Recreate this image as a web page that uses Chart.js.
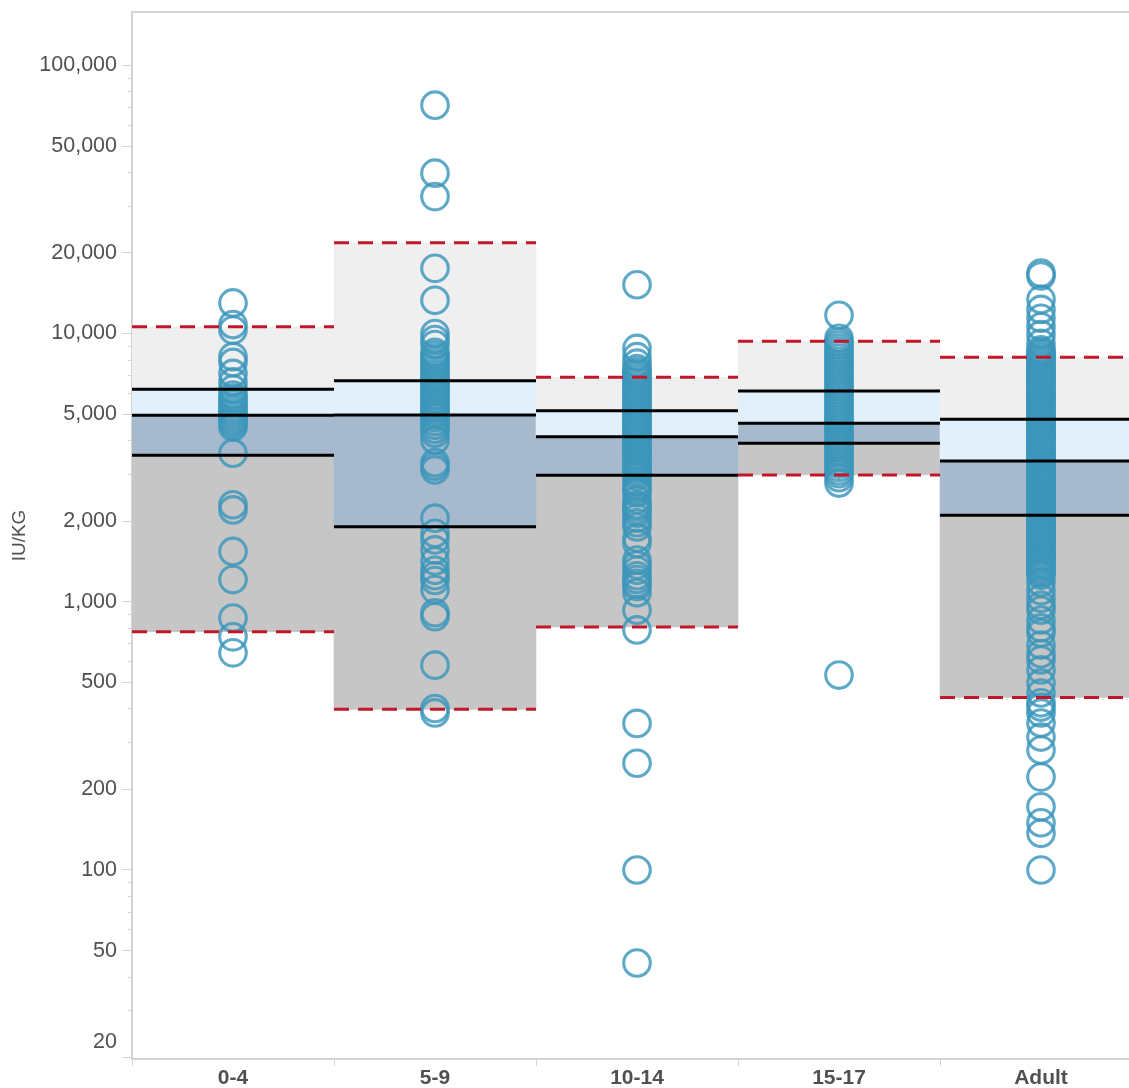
<!DOCTYPE html>
<html>
<head>
<meta charset="utf-8">
<script src="https://cdn.jsdelivr.net/npm/chart.js@4.4.1/dist/chart.umd.min.js"></script>
<style>
html,body{margin:0;padding:0;overflow:hidden;background:#fff;width:1129px;height:1088px}
#wrap{position:absolute;left:0;top:0;width:1150px;height:1088px}
</style>
</head>
<body>
<div id="wrap"><canvas id="c" width="1150" height="1088"></canvas></div>
<script>
// ---- data ----
const categories = ['0-4', '5-9', '10-14', '15-17', 'Adult'];

const upperWhisker = [10600, 21800, 6870, 9360, 8160];
const q3Values     = [6200, 6660, 5150, 6110, 4790];
const medianValues = [4960, 4970, 4120, 4630, 3350];
const q1Values     = [3520, 1905, 2960, 3900, 2100];
const lowerWhisker = [773, 397, 805, 2970, 440];

const values0to4 = [13000, 10800, 10300, 8200, 7800, 7100, 6600, 6200, 5900, 5750, 5600, 5450, 5300, 5170, 5050, 4930, 4810, 4700, 4590, 4480, 3580, 2300, 2200, 1540, 1210, 870, 740, 645];
const values5to9 = [71000, 39600, 32400, 17500, 13300, 10000, 9500, 9100, 8500, 8300, 8100, 7900, 7700, 7500, 7300, 7100, 6950, 6800, 6650, 6500, 6350, 6200, 6050, 5900, 5760, 5620, 5480, 5350, 5220, 5100, 4980, 4860, 4700, 4550, 4400, 4250, 4000, 3300, 3200, 3100, 2050, 1800, 1700, 1560, 1420, 1310, 1250, 1200, 1110, 910, 880, 580, 400, 385];
const values10to14 = [15200, 8800, 8200, 7750, 7400, 7250, 7100, 6950, 6800, 6650, 6500, 6360, 6220, 6080, 5950, 5820, 5690, 5560, 5440, 5320, 5200, 5080, 4970, 4860, 4750, 4640, 4540, 4440, 4340, 4240, 4140, 4050, 3960, 3870, 3780, 3700, 3620, 3540, 3460, 3380, 3300, 3230, 3160, 3090, 3020, 2930, 2800, 2700, 2620, 2550, 2400, 2300, 2260, 2200, 2140, 2050, 1970, 1900, 1730, 1650, 1430, 1370, 1310, 1250, 1210, 1170, 1140, 1080, 930, 785, 352, 250, 100, 45];
const values15to17 = [11700, 9600, 9300, 9050, 8800, 8560, 8330, 8100, 7880, 7670, 7460, 7260, 7060, 6870, 6680, 6500, 6320, 6150, 5980, 5820, 5660, 5510, 5360, 5210, 5070, 4930, 4800, 4670, 4540, 4420, 4300, 4180, 4070, 3960, 3850, 3750, 3650, 3550, 3450, 3350, 3260, 3170, 3080, 3000, 2900, 2770, 533];
const valuesAdult = [16800, 16400, 13400, 12300, 11400, 10600, 9900, 9200,
  8700, 8550, 8400, 8250, 8100, 7960, 7820, 7680, 7550, 7420, 7290, 7160, 7040, 6920, 6800, 6680, 6560, 6450, 6340, 6230, 6120, 6010,
  5910, 5810, 5710, 5610, 5510, 5410, 5320, 5230, 5140, 5050, 4960, 4870, 4790, 4710, 4630, 4550, 4470, 4390, 4310, 4240, 4170, 4100,
  4030, 3960, 3890, 3820, 3750, 3690, 3630, 3570, 3510, 3450, 3390, 3330, 3270, 3210, 3160, 3110, 3060, 3010, 2960, 2910, 2860, 2810,
  2760, 2710, 2660, 2620, 2580, 2540, 2500, 2460, 2420, 2380, 2340, 2300, 2260, 2220, 2180, 2140, 2100, 2060, 2020, 1980, 1945, 1910,
  1875, 1840, 1810, 1780, 1750, 1720, 1690, 1660, 1630, 1600, 1570, 1540, 1510, 1480, 1455, 1430, 1405, 1380, 1355, 1330, 1305, 1280, 1255,
  1180, 1100, 1030, 970, 930, 855, 800, 765, 690, 640, 607, 557, 498, 457, 420, 405, 385, 353, 313, 280, 222, 172, 150, 137, 100];

const majorTicks = [20, 50, 100, 200, 500, 1000, 2000, 5000, 10000, 20000, 50000, 100000];
const minorTicks = [30, 40, 60, 70, 80, 90, 300, 400, 600, 700, 800, 900, 3000, 4000, 6000, 7000, 8000, 9000, 30000, 40000, 60000, 70000, 80000, 90000];
const yMin = 19.74;
const yMax = 158000;

// ---- build datasets ----
const seriesValues = [values0to4, values5to9, values10to14, values15to17, valuesAdult];

function band(lo, hi, color) {
  return {
    type: 'bar',
    data: categories.map((c, i) => [lo[i], hi[i]]),
    backgroundColor: color,
    borderWidth: 0,
    barPercentage: 1,
    categoryPercentage: 1,
    grouped: false,
    order: 3
  };
}
function segments(vals, color, width, dash) {
  const data = [];
  vals.forEach((v, i) => {
    data.push({x: i - 0.5, y: v});
    data.push({x: i + 0.5, y: v});
    data.push({x: i + 0.5, y: null});
  });
  return {
    type: 'line',
    xAxisID: 'xl',
    data: data,
    borderColor: color,
    borderWidth: width,
    borderDash: dash,
    borderCapStyle: 'butt',
    pointRadius: 0,
    spanGaps: false,
    order: 0
  };
}

const datasets = [
  band(q3Values, upperWhisker, '#efefef'),
  band(medianValues, q3Values, '#e2f0fc'),
  band(q1Values, medianValues, '#a6b9cd'),
  band(lowerWhisker, q1Values, '#c6c6c6'),
];
seriesValues.forEach((vals, i) => {
  datasets.push({
    type: 'line',
    showLine: false,
    data: vals.map(v => ({x: categories[i], y: v})),
    pointRadius: 13.3,
    pointBorderWidth: 3.1,
    pointBackgroundColor: 'rgba(0,0,0,0)',
    pointBorderColor: 'rgba(58,150,187,0.82)',
    pointHoverRadius: 13.3,
    order: 1
  });
});
datasets.push(segments(upperWhisker, '#c0182a', 3, [15, 9]));
datasets.push(segments(lowerWhisker, '#c0182a', 3, [15, 9]));
datasets.push(segments(q3Values, '#000000', 3, []));
datasets.push(segments(medianValues, '#000000', 3, []));
datasets.push(segments(q1Values, '#000000', 3, []));

const AXIS_GRAY = '#d4d4d4';
const TEXT_GRAY = '#505050';
const FONT = '"Liberation Sans", Arial, sans-serif';

const extras = {
  id: 'extras',
  afterDraw(chart) {
    const ctx = chart.ctx;
    const ys = chart.scales.y;
    const area = chart.chartArea;
    ctx.save();
    ctx.strokeStyle = AXIS_GRAY;
    ctx.lineWidth = 1;
    minorTicks.forEach(v => {
      const py = Math.round(ys.getPixelForValue(v)) + 0.5;
      ctx.beginPath();
      ctx.moveTo(area.left - 4, py);
      ctx.lineTo(area.left, py);
      ctx.stroke();
    });
    ctx.lineWidth = 2;
    ctx.beginPath();
    ctx.moveTo(area.left - 1, area.top);
    ctx.lineTo(area.right, area.top);
    ctx.stroke();
    ctx.fillStyle = TEXT_GRAY;
    ctx.font = 'normal 21.5px ' + FONT;
    ctx.textAlign = 'right';
    ctx.textBaseline = 'middle';
    ctx.fillText('20', area.left - 15, ys.getPixelForValue(20) - 15);
    ctx.restore();
  }
};

new Chart(document.getElementById('c'), {
  type: 'bar',
  data: { labels: categories, datasets: datasets },
  options: {
    responsive: false,
    animation: false,
    devicePixelRatio: 1,
    events: [],
    layout: { autoPadding: false, padding: { top: 12, right: 8, left: 0, bottom: 0 } },
    plugins: { legend: { display: false }, tooltip: { enabled: false } },
    scales: {
      x: {
        type: 'category',
        offset: true,
        grid: { offset: true, drawOnChartArea: false, drawTicks: true, tickLength: 7, color: AXIS_GRAY, lineWidth: 1 },
        border: { display: true, color: AXIS_GRAY, width: 2 },
        ticks: { color: TEXT_GRAY, font: { family: FONT, size: 21, weight: 'bold' }, padding: 0, maxRotation: 0, autoSkip: false },
        afterFit(s) { s.height = 29; s.paddingLeft = 0; s.paddingRight = 0; }
      },
      xl: {
        type: 'linear',
        display: false,
        offset: false,
        grid: { offset: false },
        min: -0.5,
        max: 4.5
      },
      y: {
        type: 'logarithmic',
        min: yMin,
        max: yMax,
        bounds: 'data',
        grid: { drawOnChartArea: false, drawTicks: true, tickLength: 10, color: AXIS_GRAY, lineWidth: 1 },
        border: { display: true, color: AXIS_GRAY, width: 2 },
        afterBuildTicks(s) { s.ticks = majorTicks.map(v => ({ value: v, major: true })); },
        ticks: {
          color: TEXT_GRAY,
          font: { family: FONT, size: 21.5, weight: 'normal' },
          padding: 5,
          autoSkip: false,
          callback: (v) => (v === 20 ? '' : Number(v).toLocaleString('en-US'))
        },
        title: {
          display: true,
          text: 'IU/KG',
          color: TEXT_GRAY,
          font: { family: FONT, size: 19, weight: 'normal' },
          padding: { top: 8, bottom: 0 }
        },
        afterFit(s) { s.width = 132; s.paddingTop = 0; s.paddingBottom = 0; }
      }
    }
  },
  plugins: [extras]
});
</script>
</body>
</html>
